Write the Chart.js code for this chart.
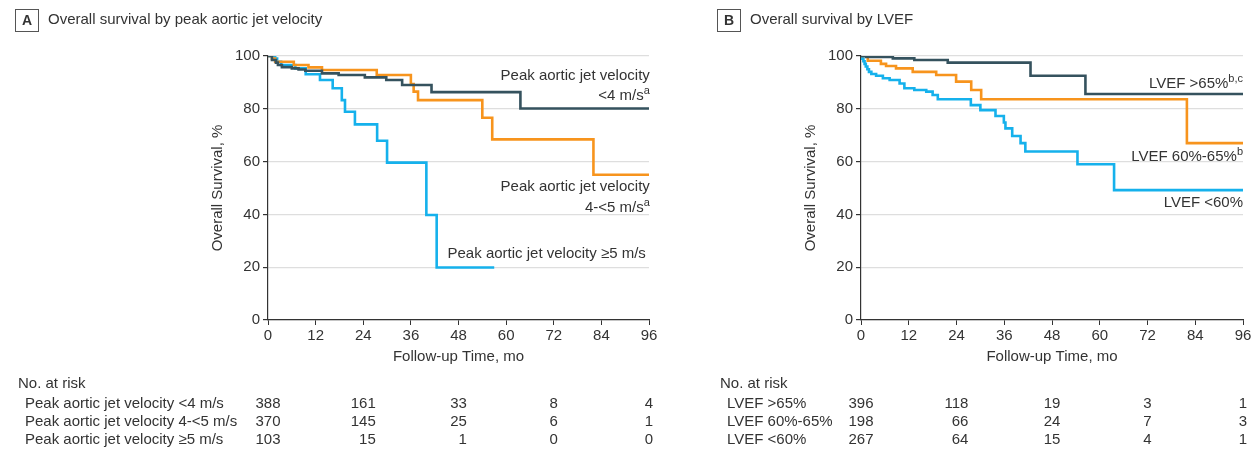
<!DOCTYPE html>
<html>
<head>
<meta charset="utf-8">
<script src="https://cdn.jsdelivr.net/npm/chart.js@4.4.1/dist/chart.umd.min.js"></script>
<style>
  body { margin: 0; background: #fff; width: 1257px; height: 466px; overflow: hidden; position: relative; }
  canvas { position: absolute; top: 0; }
  #chartA { left: 0; }
  #chartB { left: 700px; }
</style>
</head>
<body>
<canvas id="chartA" width="700" height="466"></canvas>
<canvas id="chartB" width="557" height="466"></canvas>
<script>
// time axis (months) and at-risk columns
const riskMonths = [0, 24, 48, 72, 96];

// Panel A: survival steps by peak aortic jet velocity, [month, survival %]
const velocityLow = [[0,100],[1,98.5],[2,97.5],[2.5,96.6],[3.5,95.8],[6,95.3],[7.7,94.9],[9.4,94.4],[13.6,93.4],[17.8,92.8],[24.4,91.9],[29.8,90.9],[33.8,89],[41.2,86.3],[63.6,80.1],[96,80.1]];
const velocityMid = [[0,100],[1,99],[1.8,97.8],[6.5,96.6],[10.2,95.7],[13.6,94.7],[27.4,92.8],[36,89.4],[36.7,86.5],[37.8,83.3],[54,76.6],[56.5,68.4],[82,55],[96,55]];
const velocityHigh = [[0,100],[1.8,99],[2.3,97.8],[3.3,96.6],[6.9,95.3],[9.5,93.1],[13.1,90.9],[16.3,87.8],[18.6,83.3],[19.4,78.9],[21.9,74.1],[27.5,67.9],[30,59.6],[39.9,39.8],[42.5,19.9],[57,19.9]];
const velocityRiskLabels = ['Peak aortic jet velocity <4 m/s', 'Peak aortic jet velocity 4-<5 m/s', 'Peak aortic jet velocity \u22655 m/s'];
const velocityRisk = [[388, 161, 33, 8, 4], [370, 145, 25, 6, 1], [103, 15, 1, 0, 0]];

// Panel B: survival steps by LVEF
const lvefHigh = [[0,100],[1.3,99.6],[8,99.1],[13.4,98.5],[21.8,97.5],[42.6,92.5],[56.4,85.6],[96,85.6]];
const lvefMid = [[0,100],[1.7,98.2],[5,97],[6.3,96.2],[8.8,95.3],[13,94],[18.9,92.8],[23.9,90.3],[27.7,87.1],[30.2,83.6],[81.9,67],[96,67]];
const lvefLow = [[0,100],[0.3,99],[0.6,98],[0.9,97],[1.2,96],[1.6,95],[2,94],[2.6,93.2],[3.8,92.5],[5.5,91.6],[7.2,90.9],[9.7,89.6],[10.9,87.8],[13.4,87.1],[16.4,86.5],[18,85.2],[19.3,83.6],[27.6,81.4],[30,79.5],[33.8,77.3],[35.9,74.8],[36.3,72.6],[38,69.7],[40.1,67],[41.3,63.8],[54.4,59],[63.6,49.2],[96,49.2]];
const lvefRiskLabels = ['LVEF >65%', 'LVEF 60%-65%', 'LVEF <60%'];
const lvefRisk = [[396, 118, 19, 3, 1], [198, 66, 24, 7, 3], [267, 64, 15, 4, 1]];

const DARK = '#35525e';
const ORANGE = '#f7941d';
const BLUE = '#15b1ec';
const TEXT = '#333';
const FONT = '"Liberation Sans", Arial, sans-serif';

function toPoints(pairs) {
  return pairs.map(p => ({ x: p[0], y: p[1] }));
}

// text labels + at-risk table drawn against the chart scales
const panelText = {
  id: 'panelText',
  afterDraw(chart, args, o) {
    const ctx = chart.ctx;
    const xs = chart.scales.x, ys = chart.scales.y;
    const area = chart.chartArea;
    ctx.save();
    ctx.fillStyle = TEXT;

    // panel letter box and heading
    ctx.strokeStyle = '#555';
    ctx.lineWidth = 1;
    ctx.strokeRect(o.boxX + 0.5, 9.5, 23, 22);
    ctx.font = 'bold 14px ' + FONT;
    ctx.textAlign = 'center';
    ctx.textBaseline = 'middle';
    ctx.fillText(o.letter, o.boxX + 12, 21);
    ctx.font = '15px ' + FONT;
    ctx.textAlign = 'left';
    ctx.fillText(o.heading, o.boxX + 33, 20);

    // axis titles
    ctx.textAlign = 'center';
    ctx.fillText('Follow-up Time, mo', (area.left + area.right) / 2, 357);
    ctx.save();
    ctx.translate(area.left - 50, (area.top + area.bottom) / 2);
    ctx.rotate(-Math.PI / 2);
    ctx.fillText('Overall Survival, %', 0, 0);
    ctx.restore();

    // curve labels
    o.notes.forEach(n => {
      const xr = xs.getPixelForValue(n.x);
      const yc = ys.getPixelForValue(n.y);
      let supW = 0;
      if (n.sup) {
        ctx.font = '11px ' + FONT;
        supW = ctx.measureText(n.sup).width;
        ctx.textAlign = 'left';
        ctx.fillText(n.sup, xr - supW, yc - 5);
      }
      ctx.font = '15px ' + FONT;
      ctx.textAlign = 'right';
      ctx.fillText(n.text, xr - supW, yc);
    });

    // number at risk
    ctx.font = '15px ' + FONT;
    ctx.textAlign = 'left';
    ctx.fillText('No. at risk', o.boxX + 3, 384);
    o.riskLabels.forEach((lab, i) => ctx.fillText(lab, o.boxX + 10, 404 + i * 18));
    riskMonths.forEach((m, j) => {
      const col = o.risk.map(r => String(r[j]));
      const w = Math.max(...col.map(s => ctx.measureText(s).width));
      const xr = xs.getPixelForValue(m) + w / 2;
      ctx.textAlign = 'right';
      col.forEach((s, i) => ctx.fillText(s, xr, 404 + i * 18));
    });
    ctx.restore();
  }
};

function makePanel(id, cfg) {
  return new Chart(document.getElementById(id), {
    type: 'line',
    data: {
      datasets: cfg.series.map(s => ({
        data: toPoints(s.data),
        borderColor: s.color,
        borderWidth: 2.6,
        pointRadius: 0,
        stepped: 'before',
        fill: false
      }))
    },
    options: {
      responsive: false,
      animation: false,
      layout: { padding: { left: 0, right: cfg.padRight, top: 56, bottom: 0 } },
      plugins: {
        legend: { display: false },
        tooltip: { enabled: false },
        panelText: cfg.text
      },
      scales: {
        x: {
          type: 'linear', min: 0, max: 96,
          afterFit: s => { s.height = 146; },
          ticks: { stepSize: 12, color: TEXT, font: { family: FONT, size: 15 }, padding: 2, maxRotation: 0 },
          grid: { drawOnChartArea: false, tickColor: '#333', tickLength: 5 },
          border: { color: '#333', width: 1.2 }
        },
        y: {
          min: 0, max: 100,
          afterFit: s => { s.width = cfg.yWidth; },
          ticks: { stepSize: 20, color: TEXT, font: { family: FONT, size: 15 }, padding: 3 },
          grid: { color: '#dedede', lineWidth: 1.2, tickColor: '#333', tickLength: 5 },
          border: { color: '#333', width: 1.2 }
        }
      }
    },
    plugins: [panelText]
  });
}

makePanel('chartA', {
  yWidth: 268,
  padRight: 51,
  series: [
    { data: velocityLow, color: DARK },
    { data: velocityMid, color: ORANGE },
    { data: velocityHigh, color: BLUE }
  ],
  text: {
    letter: 'A', boxX: 15,
    heading: 'Overall survival by peak aortic jet velocity',
    riskLabels: velocityRiskLabels, risk: velocityRisk,
    notes: [
      { text: 'Peak aortic jet velocity', x: 96.2, y: 92.4 },
      { text: '<4 m/s', sup: 'a', x: 96.2, y: 84.8 },
      { text: 'Peak aortic jet velocity', x: 96.2, y: 50.4 },
      { text: '4-<5 m/s', sup: 'a', x: 96.2, y: 42.4 },
      { text: 'Peak aortic jet velocity \u22655 m/s', x: 95.2, y: 25 }
    ]
  }
});

makePanel('chartB', {
  yWidth: 161,
  padRight: 14,
  series: [
    { data: lvefHigh, color: DARK },
    { data: lvefMid, color: ORANGE },
    { data: lvefLow, color: BLUE }
  ],
  text: {
    letter: 'B', boxX: 17,
    heading: 'Overall survival by LVEF',
    riskLabels: lvefRiskLabels, risk: lvefRisk,
    notes: [
      { text: 'LVEF >65%', sup: 'b,c', x: 96, y: 89.4 },
      { text: 'LVEF 60%-65%', sup: 'b', x: 96, y: 61.7 },
      { text: 'LVEF <60%', x: 96, y: 44.3 }
    ]
  }
});
</script>
</body>
</html>
